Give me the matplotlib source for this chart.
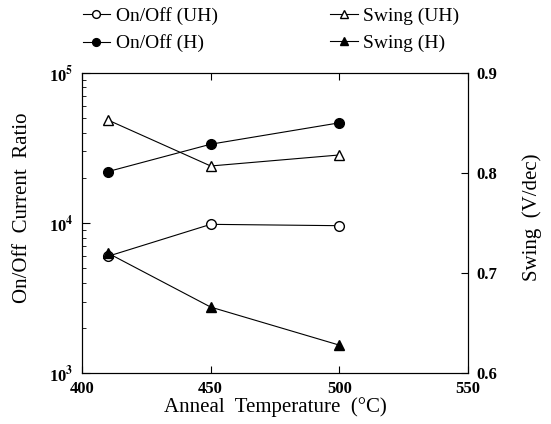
import numpy as np
import matplotlib.pyplot as plt
from matplotlib.ticker import LogLocator, NullFormatter

plt.rcParams['font.family'] = ['Liberation Serif', 'DejaVu Serif']
plt.rcParams['mathtext.fontset'] = 'stix'

temps = [410, 450, 500]
onoff_uh = [6.0e3, 9.8e3, 9.6e3]
onoff_h = [2.2e4, 3.35e4, 4.65e4]
swing_uh = [0.853, 0.807, 0.818]
swing_h = [0.720, 0.666, 0.628]

fig = plt.figure(figsize=(5.51, 4.24), dpi=100)
ax = fig.add_axes([0.149, 0.120, 0.700, 0.708])
ax2 = ax.twinx()

lw = 0.8
l1, = ax.plot(temps, onoff_uh, '-o', color='black', mfc='white', ms=7, lw=lw)
l2, = ax.plot(temps, onoff_h, '-o', color='black', mfc='black', ms=7, lw=lw)
l3, = ax2.plot(temps, swing_uh, '-^', color='black', mfc='white', ms=7, lw=lw)
l4, = ax2.plot(temps, swing_h, '-^', color='black', mfc='black', ms=7, lw=lw)

ax.set_xlim(400, 550)
ax.set_yscale('log')
ax.set_ylim(1e3, 1e5)
ax2.set_ylim(0.6, 0.9)

ax.set_xticks([400, 450, 500, 550])
ax.set_yticks([1e3, 1e4, 1e5])
ax.set_yticklabels(['10$^{\\mathbf{3}}$', '10$^{\\mathbf{4}}$', '10$^{\\mathbf{5}}$'])
ax.yaxis.set_minor_locator(LogLocator(base=10, subs=np.arange(2, 10)))
ax.yaxis.set_minor_formatter(NullFormatter())
ax2.set_yticks([0.6, 0.7, 0.8, 0.9])
ax2.set_yticklabels(['0.6', '0.7', '0.8', '0.9'])

ax.tick_params(axis='x', which='both', direction='in', top=True, length=5, width=0.8, pad=6)
ax.tick_params(axis='y', which='major', direction='in', length=6, width=0.8, pad=6)
ax.tick_params(axis='y', which='minor', direction='in', length=3, width=0.6)
ax2.tick_params(axis='y', direction='in', length=5, width=0.8, pad=6)

for lab in ax.get_xticklabels() + ax.get_yticklabels() + ax2.get_yticklabels():
    lab.set_fontsize(12)
    lab.set_fontweight('bold')

for a in (ax, ax2):
    for s in a.spines.values():
        s.set_linewidth(0.8)

ax.set_xlabel('Anneal  Temperature  (°C)', fontsize=15, labelpad=0)
ax.set_ylabel('On/Off  Current  Ratio', fontsize=15)
ax.yaxis.set_label_coords(-0.13, 0.55)
ax2.set_ylabel('Swing  (V/dec)', fontsize=15)
ax2.yaxis.set_label_coords(1.14, 0.52)

fig.legend(handles=[l1, l2, l3, l4], labels=['On/Off (UH)', 'On/Off (H)', 'Swing (UH)', 'Swing (H)'],
           loc='upper left', bbox_to_anchor=(0.118, 1.025), ncol=2, frameon=False,
           fontsize=14, handlelength=1.4, handletextpad=0.3, columnspacing=5.8,
           labelspacing=0.5, markerscale=0.8)

fig.savefig('out.png', dpi=100)
